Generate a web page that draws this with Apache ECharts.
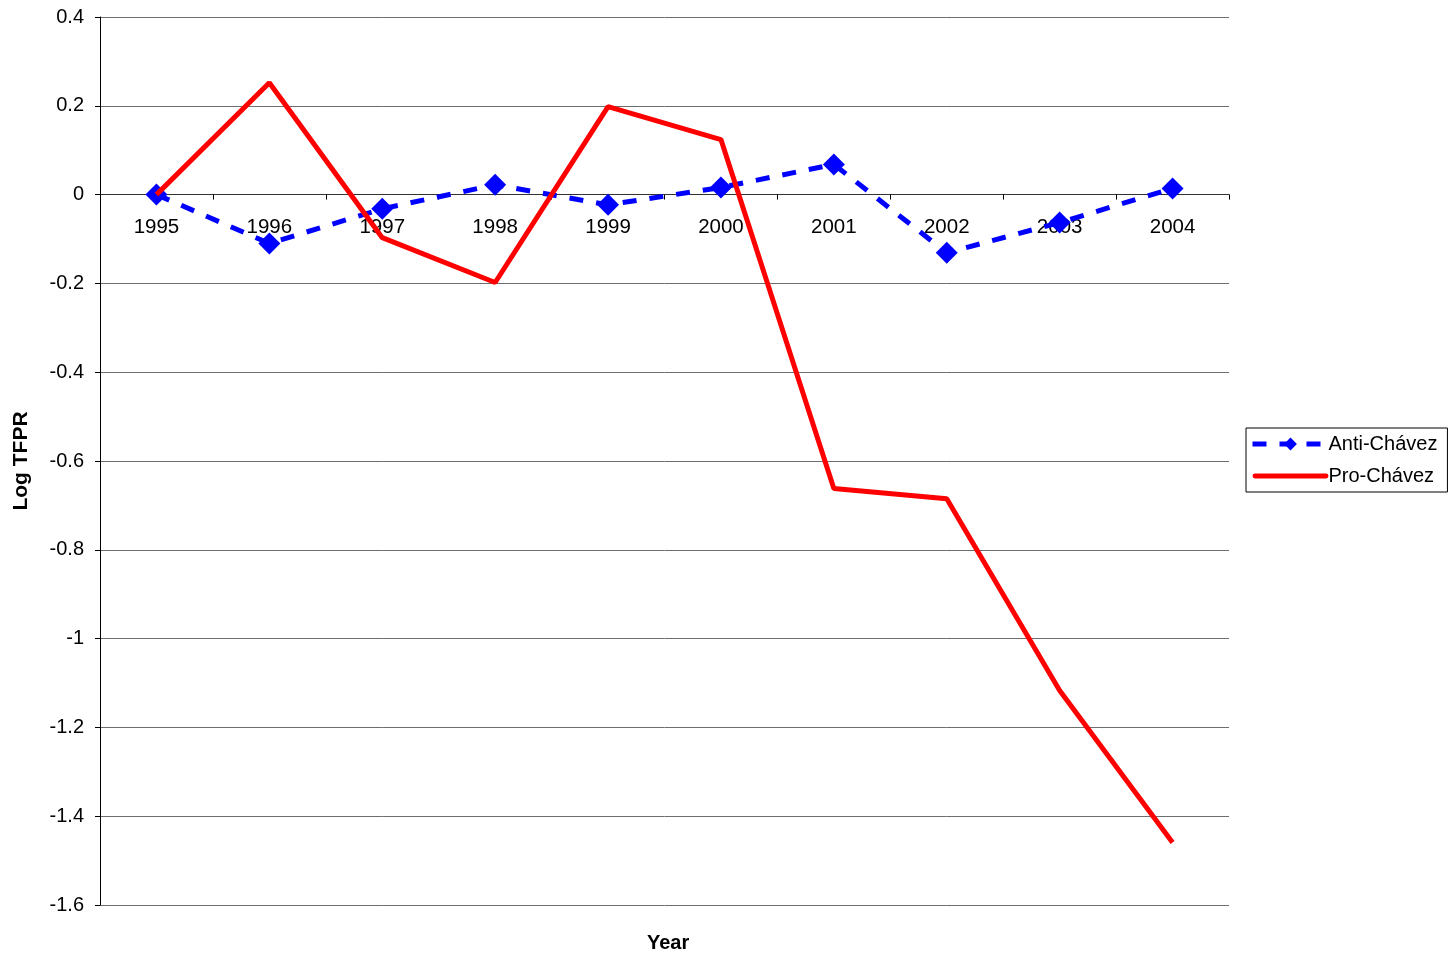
<!DOCTYPE html>
<html>
<head>
<meta charset="utf-8">
<script src="https://cdn.jsdelivr.net/npm/echarts@6/dist/echarts.min.js"></script>
<style>
  html, body { margin: 0; padding: 0; background: #fff; }
  #main { width: 1449px; height: 956px; }
</style>
</head>
<body>
<div id="main"></div>
<script>
var years = ['1995', '1996', '1997', '1998', '1999', '2000', '2001', '2002', '2003', '2004'];
var antiChavez = [0, -0.11, -0.032, 0.022, -0.023, 0.016, 0.068, -0.131, -0.063, 0.014];
var proChavez = [0, 0.252, -0.097, -0.198, 0.198, 0.124, -0.662, -0.685, -1.117, -1.459];
var yTicks = [-1.6, -1.4, -1.2, -1, -0.8, -0.6, -0.4, -0.2, 0, 0.2, 0.4];

var chart = echarts.init(document.getElementById('main'));
var font = 'Liberation Sans, Arial, sans-serif';

// grid geometry, used to put the category axis on the zero line
var gridTop = 17, gridBottom = 51, chartH = 956;
var yMin = yTicks[0], yMax = yTicks[yTicks.length - 1];
var plotH = chartH - gridTop - gridBottom;
var zeroOffset = -plotH * (0 - yMin) / (yMax - yMin);

var option = {
    backgroundColor: '#fff',
    animation: false,
    title: {
        text: 'Year',
        left: 642,
        top: 928,
        textStyle: { fontFamily: font, fontSize: 20, fontWeight: 'bold', color: '#000' }
    },
    legend: {
        orient: 'vertical',
        left: 1246,
        top: 428,
        padding: [6, 10, 6, 4],
        itemGap: 12,
        itemWidth: 76,
        itemHeight: 16,
        symbolKeepAspect: true,
        borderColor: '#000',
        borderWidth: 1,
        borderRadius: 0,
        lineStyle: { width: 5 },
        textStyle: { fontFamily: font, fontSize: 20, color: '#000', padding: [0, 0, 0, -5] },
        data: [
            { name: 'Anti-Chávez' },
            { name: 'Pro-Chávez', icon: 'path://M2,0H74A2.5,2.5 0 0 1 74,5H2A2.5,2.5 0 0 1 2,0Z' }
        ]
    },
    grid: { left: 100, right: 220, top: gridTop, bottom: gridBottom, outerBoundsMode: 'none' },
    xAxis: {
        type: 'category',
        data: years,
        boundaryGap: true,
        position: 'bottom',
        offset: zeroOffset,
        axisLine: { onZero: false, lineStyle: { color: '#333', width: 1 } },
        axisTick: { show: true, length: 5, lineStyle: { color: '#000' } },
        axisLabel: { fontFamily: font, fontSize: 20.5, color: '#000', margin: 22 },
        splitLine: { show: false }
    },
    yAxis: {
        type: 'value',
        min: yMin,
        max: yMax,
        interval: 0.2,
        name: 'Log TFPR',
        nameLocation: 'middle',
        nameGap: 68,
        nameTextStyle: { fontFamily: font, fontSize: 21, fontWeight: 'bold', color: '#000' },
        axisLine: { show: true, lineStyle: { color: '#000', width: 1 } },
        axisTick: { show: true, length: 5, lineStyle: { color: '#000' } },
        axisLabel: {
            fontFamily: font, fontSize: 20, color: '#000', margin: 16,
            formatter: function (v) { return String(Math.round(v * 10) / 10); }
        },
        splitLine: { show: true, lineStyle: { color: '#6e6e6e', width: 1 } }
    },
    series: [
        {
            name: 'Anti-Chávez',
            type: 'line',
            data: antiChavez,
            symbol: 'diamond',
            symbolSize: 22,
            itemStyle: { color: '#0000ff' },
            lineStyle: { color: '#0000ff', width: 5, type: [14, 13] },
            z: 3
        },
        {
            name: 'Pro-Chávez',
            type: 'line',
            data: proChavez,
            symbol: 'none',
            itemStyle: { color: '#ff0000' },
            lineStyle: { color: '#ff0000', width: 5 },
            z: 4
        }
    ]
};
chart.setOption(option);
</script>
</body>
</html>
